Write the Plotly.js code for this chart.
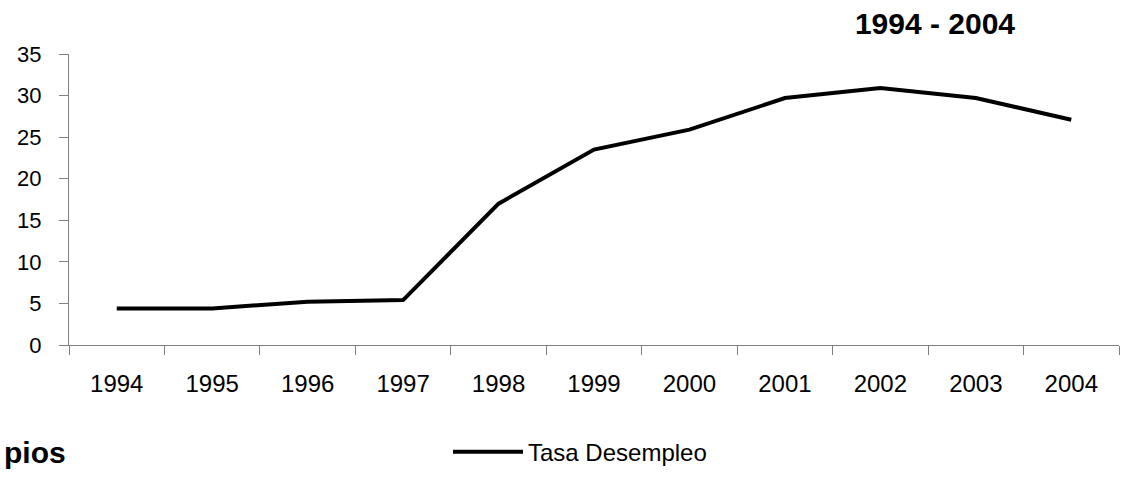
<!DOCTYPE html>
<html>
<head>
<meta charset="utf-8">
<script src="https://cdn.plot.ly/plotly-3.0.1.min.js"></script>
<style>
  html, body { margin: 0; padding: 0; background: #ffffff; }
  #chart { width: 1122px; height: 478px; }
</style>
</head>
<body>
<div id="chart"></div>
<script>
const years = ["1994", "1995", "1996", "1997", "1998", "1999", "2000", "2001", "2002", "2003", "2004"];
const tasaDesempleo = [4.4, 4.4, 5.2, 5.4, 17.0, 23.5, 25.9, 29.7, 30.9, 29.7, 27.1];
const seriesName = "Tasa Desempleo";
const chartTitle = "1994 - 2004";
const sideLabel = "pios";
const yTicks = [0, 5, 10, 15, 20, 25, 30, 35];

const FONT = '"Liberation Sans", Arial, Helvetica, sans-serif';
const W = 1122, H = 478;
const m = { l: 69, r: 3, t: 54, b: 125 };
const pw = W - m.l - m.r, ph = H - m.t - m.b;

const trace = {
  type: "scatter",
  mode: "lines",
  x: years,
  y: tasaDesempleo,
  name: seriesName,
  line: { color: "#000000", width: 4 },
  showlegend: true,
  hoverinfo: "x+y"
};

const layout = {
  width: W,
  height: H,
  margin: m,
  paper_bgcolor: "#ffffff",
  plot_bgcolor: "#ffffff",
  font: { family: FONT, color: "#000000", size: 22 },
  title: {
    text: "<b>" + chartTitle + "</b>",
    x: 935 / W,
    xref: "container",
    xanchor: "center",
    y: 1 - 23 / H,
    yref: "container",
    yanchor: "middle",
    font: { family: FONT, size: 30, color: "#000000" }
  },
  xaxis: {
    type: "category",
    range: [-0.5, 10.5],
    showgrid: false,
    zeroline: false,
    showline: true,
    linecolor: "#808080",
    linewidth: 1,
    ticks: "outside",
    ticklen: 9,
    tickwidth: 1,
    tickcolor: "#808080",
    tickson: "boundaries",
    ticklabelstandoff: 17,
    tickfont: { family: FONT, size: 24, color: "#000000" }
  },
  yaxis: {
    range: [0, 35],
    tickvals: yTicks,
    ticktext: yTicks.map(String),
    showgrid: false,
    zeroline: false,
    showline: true,
    linecolor: "#808080",
    linewidth: 1,
    ticks: "outside",
    ticklen: 9,
    tickwidth: 1,
    tickcolor: "#808080",
    ticklabelstandoff: 13,
    tickfont: { family: FONT, size: 22, color: "#000000" }
  },
  showlegend: true,
  legend: {
    orientation: "h",
    x: (448 - m.l) / pw,
    xanchor: "left",
    y: (353 - 463) / ph,
    yanchor: "middle",
    itemwidth: 70,
    bgcolor: "rgba(0,0,0,0)",
    borderwidth: 0,
    font: { family: FONT, size: 24, color: "#000000" }
  },
  annotations: [
    {
      text: "<b>" + sideLabel + "</b>",
      xref: "paper",
      yref: "paper",
      x: (2 - m.l) / pw,
      xanchor: "left",
      y: (353 - 463) / ph,
      yanchor: "middle",
      showarrow: false,
      font: { family: FONT, size: 30, color: "#000000" }
    }
  ]
};

Plotly.newPlot("chart", [trace], layout, { displayModeBar: false, staticPlot: true });
</script>
</body>
</html>
